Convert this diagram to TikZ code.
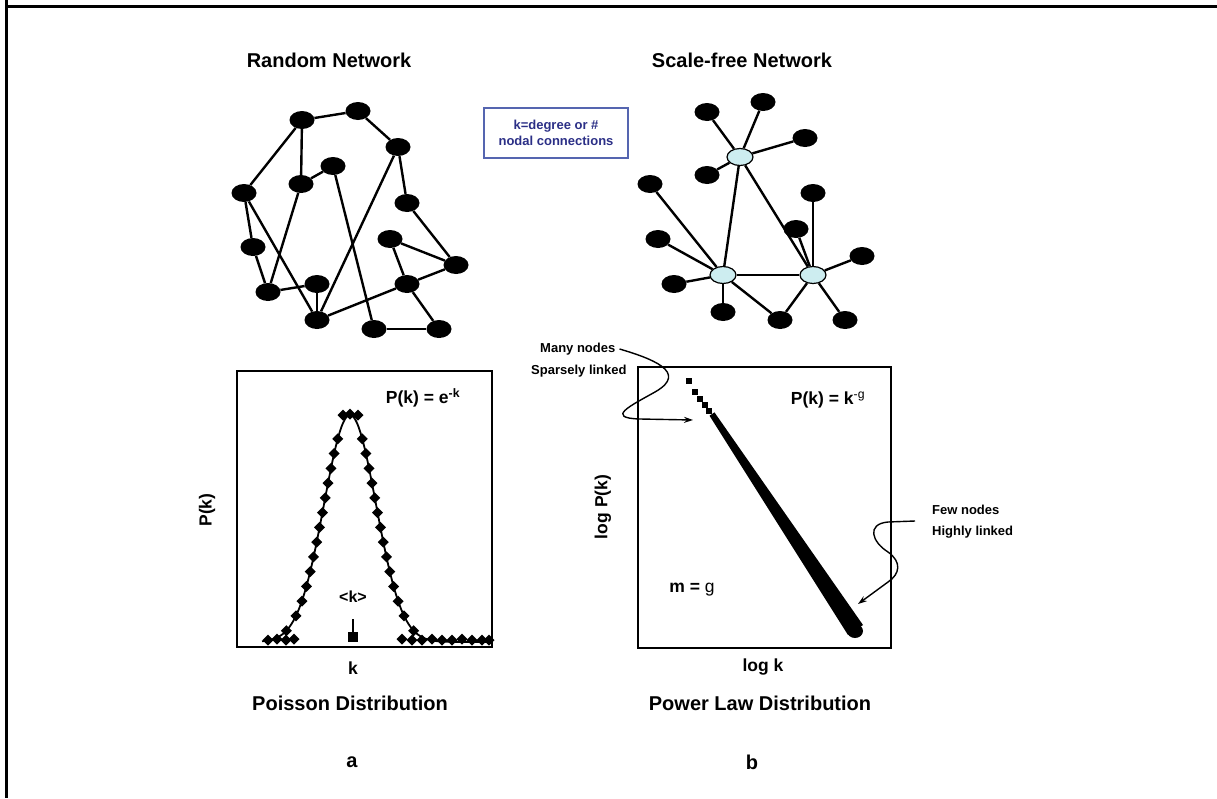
\documentclass[tikz,border=0pt]{standalone}
\usepackage{fontspec}
\setmainfont{Liberation Sans}
\usetikzlibrary{shapes.geometric,arrows.meta}
\definecolor{hubfill}{HTML}{CDEDF0}
\definecolor{boxblue}{HTML}{5565B0}
\definecolor{boxtext}{HTML}{2B2F86}
\begin{document}
\begin{tikzpicture}[x=1pt,y=-1pt,
  bn/.style={ellipse,fill=black,minimum width=25pt,minimum height=18pt,inner sep=0pt},
  hub/.style={ellipse,draw=black,line width=1.2pt,fill=hubfill,minimum width=26pt,minimum height=17pt,inner sep=0pt},
  edge/.style={line width=2.4pt},
  title/.style={font=\bfseries\fontsize{20}{24}\selectfont,inner sep=0pt},
  lab/.style={font=\bfseries\fontsize{17.5}{20}\selectfont,inner sep=0pt},
  small/.style={font=\bfseries\fontsize{13}{15}\selectfont,inner sep=0pt},
  plotbox/.style={draw=black,line width=1.8pt},
  frame/.style={line width=3pt},
  curvy/.style={line width=1.4pt,-{Stealth[length=9pt,width=6pt]}},
  dmark/.style={fill=black}
]
\useasboundingbox (0,0) rectangle (1217,798);
% frame
\draw[frame] (6.5,0) -- (6.5,798);
\draw[frame] (5,6.5) -- (1217,6.5);

% titles
\node[title] (t1) at (329,60) {Random Network};
\node[title] (t2) at (742,60) {Scale-free Network};

% info box
\node[draw=boxblue,line width=1.5pt,minimum width=144pt,minimum height=50pt,inner sep=0pt,
      text=boxtext,font=\bfseries\fontsize{13}{16.5}\selectfont,align=center] (info) at (556,133)
      {k=degree or \#\\nodal connections};

% random network
\node[bn] (A) at (302,120) {};
\node[bn] (B) at (358,111) {};
\node[bn] (C) at (398,147) {};
\node[bn] (D) at (333,166) {};
\node[bn] (E) at (301,184) {};
\node[bn] (F) at (244,193) {};
\node[bn] (G) at (407,203) {};
\node[bn] (H) at (390,239) {};
\node[bn] (I) at (253,247) {};
\node[bn] (J) at (456,265) {};
\node[bn] (K) at (317,284) {};
\node[bn] (L) at (407,284) {};
\node[bn] (M) at (268,292) {};
\node[bn] (N) at (317,320) {};
\node[bn] (O) at (374,329) {};
\node[bn] (P) at (439,329) {};
\foreach \u/\v in {A/B,B/C,A/F,A/E,E/D,E/M,F/I,F/N,I/M,M/K,K/N,D/O,C/N,C/G,G/J,H/J,H/L,L/N,L/J,L/P,O/P}
  \draw[edge] (\u) -- (\v);

% scale-free network
\node[bn] (a1) at (707,112) {};
\node[bn] (a2) at (763,102) {};
\node[bn] (a3) at (805,138) {};
\node[bn] (a4) at (707,175) {};
\node[bn] (b1) at (650,184) {};
\node[bn] (b2) at (658,239) {};
\node[bn] (b3) at (674,284) {};
\node[bn] (b4) at (723,312) {};
\node[bn] (b5) at (780,320) {};
\node[bn] (c1) at (813,193) {};
\node[bn] (c2) at (796,229) {};
\node[bn] (c3) at (862,256) {};
\node[bn] (c4) at (845,320) {};
\node[hub] (H1) at (740,157) {};
\node[hub] (H2) at (723,275) {};
\node[hub] (H3) at (813,275) {};
\foreach \u/\v in {H1/a1,H1/a2,H1/a3,H1/a4,H1/H2,H1/H3,H2/H3,H2/b1,H2/b2,H2/b3,H2/b4,H2/b5,H3/c1,H3/c2,H3/c3,H3/c4,H3/b5}
  \draw[edge] (\u) -- (\v);

% Poisson plot
\node[plotbox,minimum width=255pt,minimum height=276pt,inner sep=0pt] (pbox) at (364.5,509) {};
\draw[line width=1.8pt] plot[domain=262:490,samples=150] (\x,{642-227*exp(-0.5*((\x-350)/26)^2)});
\foreach \s in {0.05,0.115,...,0.95}{
  \pgfmathsetmacro{\dx}{26*sqrt(-2*ln(\s))}
  \pgfmathsetmacro{\yy}{642-227*\s}
  \fill[dmark] ({350-\dx},\yy-5.5) -- ++(5.5,5.5) -- ++(-5.5,5.5) -- ++(-5.5,-5.5) -- cycle;
  \fill[dmark] ({350+\dx},\yy-5.5) -- ++(5.5,5.5) -- ++(-5.5,5.5) -- ++(-5.5,-5.5) -- cycle;
}
\foreach \xx/\yy in {343/415,350/414,358/415,268/640,277/639,286/640,294/639,
  402/639,412/640,422/640,432/639,442/640,452/640,462/639,472/640,482/640,489/640}
  \fill[dmark] (\xx,\yy-5.5) -- ++(5.5,5.5) -- ++(-5.5,5.5) -- ++(-5.5,-5.5) -- cycle;
\draw[line width=2pt] (353,619) -- (353,642);
\fill (348,632) rectangle (358,642);
\node[small,font=\bfseries\fontsize{16}{18}\selectfont] (kavg) at (353,597) {<k>};
\node[lab] (pk) at (423,398) {P(k) = e\textsuperscript{-k}};
\node[lab,rotate=90] (pky) at (207,510) {P(k)};
\node[lab] (kx) at (353,668) {k};
\node[title] (pd) at (350,703) {Poisson Distribution};
\node[title] (la) at (352,762) {a};

% power-law plot
\node[plotbox,minimum width=253pt,minimum height=281pt,inner sep=0pt] (lbox) at (764.5,507.5) {};
\foreach \xx/\yy in {689/381,695/392,700/399,705/405,709/411}
  \fill (\xx-3,\yy-3) rectangle (\xx+3,\yy+3);
\fill (709.5,415.7) -- (714.5,412.4) -- (863,625) -- (848,635) -- cycle;
\fill (855,631) ellipse (8pt and 7pt);
\node[lab] (pkg) at (828,400) {P(k) = k\textsuperscript{\mdseries -g}};
\node[lab] (mg) at (692,590) {m = \mdseries g};
\node[lab,rotate=90] (lpk) at (603,507) {log P(k)};
\node[lab] (lk) at (763,667) {log k};
\node[title] (pld) at (760,703) {Power Law Distribution};
\node[title] (lb) at (752,762) {b};

% annotations
\node[small,anchor=west] (mn1) at (540,349) {Many nodes};
\node[small,anchor=west] (mn2) at (531,371) {Sparsely linked};
\coordinate (mnend) at (693,420);
\draw[curvy] (mn1.east) ++(4,0) .. controls (650,358) and (690,372) .. (655,392)
   .. controls (630,406) and (605,418) .. (640,419) -- (mnend);
\node[small,anchor=west] (fn1) at (932,510) {Few nodes};
\node[small,anchor=west] (fn2) at (932,532) {Highly linked};
\coordinate (fnstart) at (915,521);
\coordinate (fnend) at (858,604);
\draw[curvy] (fnstart) -- (888,522) .. controls (866,524) and (872,542) .. (888,552)
   .. controls (902,562) and (900,574) .. (888,582) -- (fnend);
\end{tikzpicture}
\end{document}
